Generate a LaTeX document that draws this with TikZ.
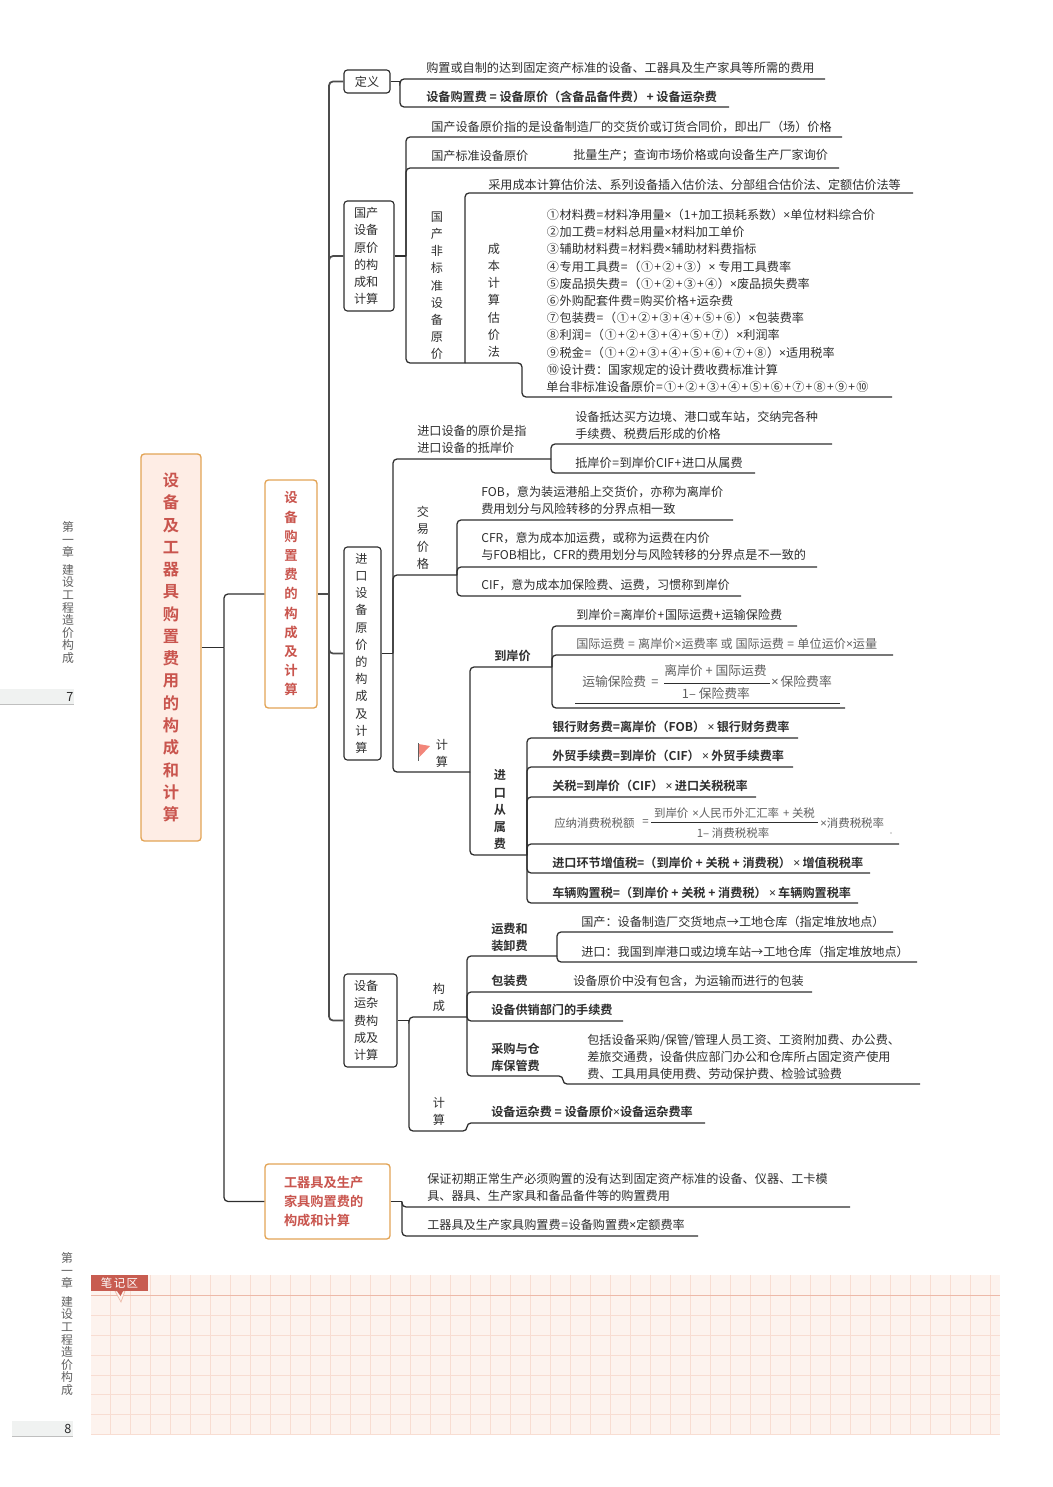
\documentclass[tikz,border=0pt]{standalone}
\usepackage{fontspec}
\setmainfont{Noto Sans CJK SC}[BoldFont={Noto Sans CJK SC Bold}]
\newfontfamily\latinf{Noto Sans}
\definecolor{ink}{HTML}{2E2E2E}
\definecolor{gray1}{HTML}{5F5F5F}
\definecolor{redt}{HTML}{C9554E}
\definecolor{orangeb}{HTML}{E2A456}
\definecolor{rootf}{HTML}{FEEDE5}
\definecolor{paper}{HTML}{FDF3EE}
\definecolor{gridc}{HTML}{F8DDD2}
\definecolor{redl}{HTML}{EDB9A8}
\definecolor{tagc}{HTML}{C85C50}
\definecolor{bandc}{HTML}{F0F2F1}
\definecolor{flagc}{HTML}{F2867A}
\tikzset{
  x=0.75pt,y=-0.75pt,
  txt/.style={anchor=west,inner sep=0pt,yshift=-0.6pt,text=ink,align=left,font=\fontsize{9.1}{12.9}\selectfont},
  bold/.style={font=\fontsize{9.1}{12.9}\selectfont\bfseries},
  faint/.style={text=gray1},
  big/.style={font=\fontsize{9.6}{12.9}\selectfont},
  small/.style={font=\fontsize{8.6}{12}\selectfont},
  vert/.style={anchor=center,inner sep=0pt,yshift=-0.6pt,text=ink,align=center,font=\fontsize{9.1}{12.9}\selectfont},
  side/.style={anchor=center,inner sep=0pt,text=gray1,align=center,font=\fontsize{8.9}{9.45}\selectfont},
  link/.style={draw=ink,line width=0.95pt,rounded corners=3pt},
  trunk/.style={draw=black!70,line width=1.3pt,rounded corners=3pt},
  subbox/.style={draw=ink,line width=0.85pt,rounded corners=2.5pt,fill=white,inner sep=0pt,text=ink,font=\fontsize{9.1}{12.9}\selectfont,align=left},
  hotbox/.style={draw=orangeb,line width=1pt,rounded corners=2.5pt,inner sep=0pt,text=redt,align=center},
  fracbar/.style={draw=ink,line width=0.6pt},
}
\newcommand\T[5][]{\node[txt,#1] (#2) at (#3,#4) {#5};}
\newcommand\X{{\latinf ×}}
\newcommand\Xb{\makebox[8.6pt][c]{\latinf ×}}
\newcommand\Pl{\kern.47pt+\kern.47pt}
\newcommand\Eq{\kern.47pt=\kern.47pt}
\newcommand\Cc[1]{\kern.47pt#1\kern.47pt}
\newcommand\Ia{\hspace*{7.5pt}}
\newcommand\Ib{\hspace*{14.25pt}}
\begin{document}
\begin{tikzpicture}
\useasboundingbox (0,0) rectangle (1052,1487);
% margins
\fill[bandc] (0,689) rectangle (74,704);
\draw[black!25,line width=0.7pt] (0,704) -- (74,704);
\node[inner sep=0pt,text=ink,font=\fontsize{9.5}{10}\selectfont] (pg7) at (70,697) {7};
\fill[bandc] (12,1421) rectangle (73,1436);
\draw[black!25,line width=0.7pt] (12,1436) -- (73,1436);
\node[inner sep=0pt,text=ink,font=\fontsize{9.5}{10}\selectfont] (pg8) at (68,1429) {8};
\node[side] (cha) at (68,539.5) {第\\一\\章};
\node[side] (chb) at (68,614) {建\\设\\工\\程\\造\\价\\构\\成};
\node[side] (chc) at (67,1270.5) {第\\一\\章};
\node[side] (chd) at (67,1346) {建\\设\\工\\程\\造\\价\\构\\成};
% notes
\fill[paper] (91,1275) rectangle (1000,1434);
\foreach \xx in {110,130,...,990} \draw[gridc,line width=0.55pt] (\xx,1275) -- (\xx,1434);
\foreach \yy in {1315,1335,1355,1375,1394,1414,1434} \draw[gridc,line width=0.55pt] (91,\yy) -- (1000,\yy);
\draw[redl,line width=0.7pt] (91,1295) -- (1000,1295);
\draw[redl,fill=paper,line width=0.5pt] (115,1291) -- (121,1302) -- (125,1291) -- cycle;
\fill[tagc] (91,1275) rectangle (148,1291);
\fill[tagc] (117,1291) -- (120.5,1296) -- (123,1291) -- cycle;
\node[inner sep=0pt,text=white,font=\fontsize{8.6}{10}\selectfont] (tag) at (119.5,1283) {笔\hspace{1pt}记\hspace{1pt}区};
% main boxes
\node[hotbox,fill=rootf,minimum width=45pt,minimum height=290.25pt,font=\fontsize{12.2}{16.7}\selectfont\bfseries] (root) at (171,647.5)
 {设\\备\\及\\工\\器\\具\\购\\置\\费\\用\\的\\构\\成\\和\\计\\算};
\node[hotbox,fill=white,minimum width=39pt,minimum height=171pt,font=\fontsize{10}{14.4}\selectfont\bfseries] (box1) at (291,594)
 {设\\备\\购\\置\\费\\的\\构\\成\\及\\计\\算};
\node[hotbox,fill=white,text width=93.75pt,minimum height=56.25pt,font=\fontsize{9.9}{14.2}\selectfont\bfseries,align=left] (box3) at (327.5,1201.5)
 {\Ib 工器具及生产\\\Ib 家具购置费的\\\Ib 构成和计算};
\node[subbox,align=center,minimum width=34.5pt,minimum height=17.25pt] (def) at (367,81.5) {定义};
\node[subbox,text width=37.5pt,minimum height=82.5pt] (dom) at (369,256) {\Ia 国产\\\Ia 设备\\\Ia 原价\\\Ia 的构\\\Ia 成和\\\Ia 计算};
\node[subbox,text width=27.75pt,minimum height=159.75pt] (imp) at (362.5,653.5) {\hspace*{8.6pt}进\\\hspace*{8.6pt}口\\\hspace*{8.6pt}设\\\hspace*{8.6pt}备\\\hspace*{8.6pt}原\\\hspace*{8.6pt}价\\\hspace*{8.6pt}的\\\hspace*{8.6pt}构\\\hspace*{8.6pt}成\\\hspace*{8.6pt}及\\\hspace*{8.6pt}计\\\hspace*{8.6pt}算};
\node[subbox,text width=39.75pt,minimum height=69.75pt] (misc) at (370.5,1020.5) {\Ia 设备\\\Ia 运杂\\\Ia 费构\\\Ia 成及\\\Ia 计算};
% junctions
\coordinate (j0) at (224,647.5);
\coordinate (j1) at (329,594);
\coordinate (j2) at (400,81.5);
\coordinate (j3) at (406,256);
\coordinate (j4) at (465,363);
\coordinate (j4c) at (522,397);
\coordinate (j5) at (393,653.5);
\coordinate (j6) at (551,459);
\coordinate (j7) at (457,575);
\coordinate (j8) at (470,772);
\coordinate (j9) at (552,667);
\coordinate (j10) at (527,855);
\coordinate (j11) at (409,1020.5);
\coordinate (j12) at (467,1017);
\coordinate (j13) at (557,956);
\coordinate (j14) at (563,1076);
\coordinate (j15) at (467,1131);
\coordinate (j16) at (402,1201.5);
% underline ends
\coordinate (u1) at (825,79);   \coordinate (u2) at (729,107);
\coordinate (u3) at (842,137);  \coordinate (u4) at (839,168);
\coordinate (u5) at (913,193);  \coordinate (u6) at (892,397);
\coordinate (u7) at (832,444);  \coordinate (u8) at (755,473);
\coordinate (u9) at (733,520);  \coordinate (u10) at (817,567);
\coordinate (u11) at (741,596);
\coordinate (u12) at (797,626); \coordinate (u13) at (893,655);
\coordinate (u14) at (845,708);
\coordinate (u15) at (798,738); \coordinate (u16) at (793,767);
\coordinate (u17) at (756,797); \coordinate (u18) at (899,844);
\coordinate (u19) at (870,873); \coordinate (u20) at (858,903);
\coordinate (u21) at (893,932); \coordinate (u22) at (917,962);
\coordinate (u23) at (812,992); \coordinate (u24) at (623,1021);
\coordinate (u25) at (920,1084);\coordinate (u26) at (705,1123);
\coordinate (u27) at (850,1207);\coordinate (u28) at (698,1236);
% connectors level 1-2
\draw[link] (root.east) -- (j0);
\draw[link] (j0) |- (box1.west);
\draw[link] (j0) |- (box3.west);
\draw[trunk] (box1.east) -- (j1);
\draw[trunk] (j1) |- (def.west);
\draw[trunk] (j1) |- (dom.west);
\draw[trunk] (j1) |- (imp.west);
\draw[trunk] (j1) |- (misc.west);
% definition
\draw[link] (def.east) -- (j2);
\draw[link] (j2) |- (u1);
\draw[link] (j2) |- (u2);
\T{t1}{426}{67}{购置或自制的达到固定资产标准的设备、工器具及生产家具等所需的费用}
\T[bold]{t2}{426}{96}{设备购置费 = 设备原价（含备品备件费）\kern1pt + 设备运杂费}
% domestic
\draw[link] (dom.east) -- (j3);
\draw[link] (j3) |- (u3);
\draw[link] (j3) |- (u4);
\draw[link] (j3) |- (j4);
\draw[link] (j4) |- (u5);
\draw[link] (j4) -| (j4c) -- (u6);
\T{t3}{431}{126}{国产设备原价指的是设备制造厂的交货价或订货合同价，即出厂（场）价格}
\T{t4}{431}{155}{国产标准设备原价}
\T{t5}{573}{155}{批量生产；查询市场价格或向设备生产厂家询价}
\node[vert] (t6) at (437,285) {国\\产\\非\\标\\准\\设\\备\\原\\价};
\T{t7}{488}{184}{采用成本计算估价法、系列设备插入估价法、分部组合估价法、定额估价法等}
\node[vert] (t8) at (494,299.5) {成\\本\\计\\算\\估\\价\\法};
\T{t9}{546}{300}{\Cc{①}材料费\Eq 材料净用量\X（1\Pl 加工损耗系数）\X 单位材料综合价\\
\Cc{②}加工费\Eq 材料总用量\X 材料加工单价\\
\Cc{③}辅助材料费\Eq 材料费\X 辅助材料费指标\\
\Cc{④}专用工具费\Eq（\Cc{①}\Pl\Cc{②}\Pl\Cc{③}）\X\ 专用工具费率\\
\Cc{⑤}废品损失费\Eq（\Cc{①}\Pl\Cc{②}\Pl\Cc{③}\Pl\Cc{④}）\X 废品损失费率\\
\Cc{⑥}外购配套件费\Eq 购买价格\Pl 运杂费\\
\Cc{⑦}包装费\Eq（\Cc{①}\Pl\Cc{②}\Pl\Cc{③}\Pl\Cc{④}\Pl\Cc{⑤}\Pl\Cc{⑥}）\X 包装费率\\
\Cc{⑧}利润\Eq（\Cc{①}\Pl\Cc{②}\Pl\Cc{③}\Pl\Cc{④}\Pl\Cc{⑤}\Pl\Cc{⑦}）\X 利润率\\
\Cc{⑨}税金\Eq（\Cc{①}\Pl\Cc{②}\Pl\Cc{③}\Pl\Cc{④}\Pl\Cc{⑤}\Pl\Cc{⑥}\Pl\Cc{⑦}\Pl\Cc{⑧}）\X 适用税率\\
\Cc{⑩}设计费：国家规定的设计费收费标准计算\\
单台非标准设备原价\Eq\Cc{①}\Pl\Cc{②}\Pl\Cc{③}\Pl\Cc{④}\Pl\Cc{⑤}\Pl\Cc{⑥}\Pl\Cc{⑦}\Pl\Cc{⑧}\Pl\Cc{⑨}\Pl\Cc{⑩}}
% import
\draw[link] (imp.east) -- (j5);
\draw[link] (j5) |- (j6);
\draw[link] (j6) |- (u7);
\draw[link] (j6) |- (u8);
\draw[link] (j5) |- (j7);
\draw[link] (j7) |- (u9);
\draw[link] (j7) |- (u10);
\draw[link] (j7) |- (u11);
\draw[link] (j5) |- (j8);
\draw[link] (j8) |- (j9);
\draw[link] (j9) |- (u12);
\draw[link] (j9) |- (u13);
\draw[link] (j9) |- (u14);
\draw[link] (j8) |- (j10);
\draw[link] (j10) |- (u15);
\draw[link] (j10) |- (u16);
\draw[link] (j10) |- (u17);
\draw[link] (j10) |- (u18);
\draw[link] (j10) |- (u19);
\draw[link] (j10) |- (u20);
\T{t10}{417}{438.5}{进口设备的原价是指\\进口设备的抵岸价}
\T{t11}{575}{424.5}{设备抵达买方边境、港口或车站，交纳完各种\\手续费、税费后形成的价格}
\T{t12}{575}{462}{抵岸价\Eq 到岸价CIF\Pl 进口从属费}
\node[vert] (t13) at (423,537) {交\\易\\价\\格};
\T{t14}{481}{499.5}{FOB，意为装运港船上交货价，亦称为离岸价\\费用划分与风险转移的分界点相一致}
\T{t15}{481}{546}{CFR，意为成本加运费，或称为运费在内价\\与FOB相比，CFR的费用划分与风险转移的分界点是不一致的}
\T{t16}{481}{584}{CIF，意为成本加保险费、运费，习惯称到岸价}
\fill[flagc] (418.5,744) -- (430,746) -- (419.5,757) -- cycle;
\draw[gray1,line width=0.8pt] (418.5,743) -- (418.5,761);
\node[vert] (t17) at (442,753) {计\\算};
\T[bold]{t18}{494}{655}{到岸价}
\T{t19}{576}{614}{到岸价\Eq 离岸价\Pl 国际运费\Pl 运输保险费}
\T[faint]{t20}{576}{643}{国际运费 \Eq\ 离岸价\X 运费率 或 国际运费 \Eq\ 单位运价\X 运量}
\T[faint,big]{t21}{582}{681}{运输保险费}
\node[txt,faint,big] (t21b) at (651,682) {=};
\node[txt,faint,big,anchor=center] (t22) at (715.5,670) {离岸价 + 国际运费};
\node[txt,faint,big,anchor=center] (t23) at (716,693) {1– 保险费率};
\draw[fracbar] (664,683) -- (770,683);
\T[faint,big]{t24}{771}{681}{\X\kern1.5pt 保险费率}
\draw[ink,line width=0.6pt] (575,703) -- (840,703);
\node[vert,font=\fontsize{9.1}{12.9}\selectfont\bfseries] (t25) at (500,809) {进\\口\\从\\属\\费};
\T[bold]{t26}{552}{726}{银行财务费=离岸价（FOB）\Xb 银行财务费率}
\T[bold]{t27}{552}{755}{外贸手续费=到岸价（CIF）\Xb 外贸手续费率}
\T[bold]{t28}{552}{785}{关税=到岸价（CIF）\Xb 进口关税税率}
\node[txt,faint,small] (t29) at (554,822) {应纳消费税税额};
\node[txt,faint,small] (t29b) at (642,822) {=};
\node[txt,faint,small,anchor=center] (t30) at (734.5,812) {到岸价 \kern1pt\X 人民币外汇汇率 \kern1pt+ 关税};
\node[txt,faint,small,anchor=center] (t31) at (733,832) {1– 消费税税率};
\draw[fracbar] (651,822) -- (818,822);
\node[txt,faint,small] (t32) at (820,822) {\X 消费税税率};
\fill[gray1] (891,833) circle (0.6);
\T[bold]{t33}{552}{862}{进口环节增值税=（到岸价 + 关税 + 消费税）\Xb 增值税税率}
\T[bold]{t34}{552}{892}{车辆购置税=（到岸价 + 关税 + 消费税）\Xb 车辆购置税率}
% miscellaneous
\draw[link] (misc.east) -- (j11);
\draw[link] (j11) |- (j12);
\draw[link] (j12) |- (j13);
\draw[link] (j13) |- (u21);
\draw[link] (j13) |- (u22);
\draw[link] (j12) |- (u23);
\draw[link] (j12) |- (u24);
\draw[link] (j12) |- (j14) |- (u25);
\draw[link] (j11) |- (j15) |- (u26);
\node[vert] (t35) at (439,996.5) {构\\成};
\node[vert] (t36) at (439,1110.5) {计\\算};
\T[bold]{t37}{491}{936.5}{运费和\\装卸费}
\T{t38}{581}{921}{国产：设备制造厂交货地点→工地仓库（指定堆放地点）}
\T{t39}{581}{951}{进口：我国到岸港口或边境车站→工地仓库（指定堆放地点）}
\T[bold]{t40}{491}{980}{包装费}
\T{t41}{573}{980}{设备原价中没有包含，为运输而进行的包装}
\T[bold]{t42}{491}{1009}{设备供销部门的手续费}
\T[bold]{t43}{491}{1056.5}{采购与仓\\库保管费}
\T{t44}{587}{1056}{包括设备采购/保管/管理人员工资、工资附加费、办公费、\\差旅交通费，设备供应部门办公和仓库所占固定资产使用\\费、工具用具使用费、劳动保护费、检验试验费}
\T[bold]{t45}{491}{1111}{设备运杂费 = 设备原价\X 设备运杂费率}
% tools
\draw[link] (box3.east) -- (j16);
\draw[link] (j16) |- (u27);
\draw[link] (j16) |- (u28);
\T{t46}{427}{1186.5}{保证初期正常生产必须购置的没有达到固定资产标准的设备、仪器、工卡模\\具、器具、生产家具和备品备件等的购置费用}
\T{t47}{427}{1224}{工器具及生产家具购置费\Eq 设备购置费\X 定额费率}
\end{tikzpicture}
\end{document}
